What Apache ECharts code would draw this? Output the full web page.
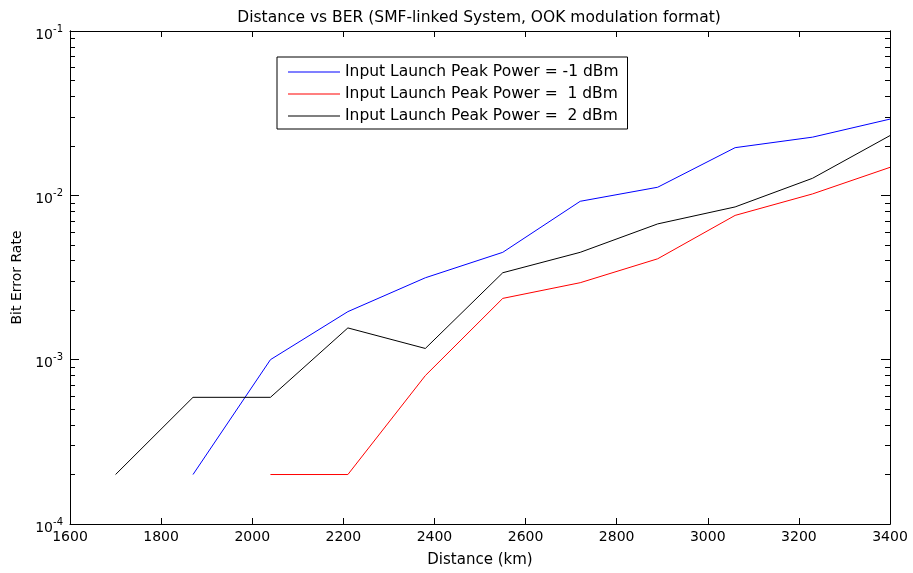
<!DOCTYPE html>
<html>
<head>
<meta charset="utf-8">
<script src="https://cdn.jsdelivr.net/npm/echarts@6/dist/echarts.min.js"></script>
<style>html,body{margin:0;padding:0;background:#fff;}#c{width:913px;height:573px;}</style>
</head>
<body>
<div id="c"></div>
<script>
// ---- data ----
var distBlue  = [1870, 2040, 2210, 2380, 2550, 2720, 2890, 3060, 3230, 3400];
var berBlue   = [2.0e-4, 1.0e-3, 1.96e-3, 3.15e-3, 4.5e-3, 9.2e-3, 1.12e-2, 1.95e-2, 2.26e-2, 2.91e-2];
var distRed   = [2040, 2210, 2380, 2550, 2720, 2890, 3060, 3230, 3400];
var berRed    = [2.0e-4, 2.0e-4, 8.0e-4, 2.36e-3, 2.94e-3, 4.11e-3, 7.55e-3, 1.02e-2, 1.48e-2];
var distBlack = [1700, 1870, 2040, 2210, 2380, 2550, 2720, 2890, 3060, 3230, 3400];
var berBlack  = [2.0e-4, 5.9e-4, 5.9e-4, 1.56e-3, 1.17e-3, 3.38e-3, 4.5e-3, 6.7e-3, 8.5e-3, 1.27e-2, 2.31e-2];
var seriesNames = ['Input Launch Peak Power = -1 dBm', 'Input Launch Peak Power =  1 dBm', 'Input Launch Peak Power =  2 dBm'];
var xTicks = [1600, 1800, 2000, 2200, 2400, 2600, 2800, 3000, 3200, 3400];
var yDecades = [1e-4, 1e-3, 1e-2, 1e-1];
var yMinor = [2e-4,3e-4,4e-4,5e-4,6e-4,7e-4,8e-4,9e-4,2e-3,3e-3,4e-3,5e-3,6e-3,7e-3,8e-3,9e-3,2e-2,3e-2,4e-2,5e-2,6e-2,7e-2,8e-2,9e-2];

function pairs(xs, ys){ return xs.map(function(x,i){ return [x, ys[i]]; }); }

var FONT = '"DejaVu Sans", Arial, sans-serif';
var chart = echarts.init(document.getElementById('c'), null, {renderer:'canvas'});

function yAx(pos, showLabel, ticks, len){
  return {
    type:'log', logBase:10, min:1e-4, max:1e-1, position:pos,
    gridIndex:0,
    axisLine:{show:true, onZero:false, lineStyle:{color:'#000', width:1}},
    axisTick:{show:true, inside:true, length:len, customValues:ticks, lineStyle:{color:'#000', width:1}},
    splitLine:{show:false},
    axisLabel:{show:showLabel, customValues: yDecades, margin:7,
      formatter:function(v){ var e = Math.round(Math.log10(v)); return '{b|10}{s|' + e + '}'; },
      rich:{ b:{fontFamily:FONT, fontSize:14, color:'#000', padding:[8,0,0,0]}, s:{fontFamily:FONT, fontSize:10, color:'#000', padding:[0,0,4,0]} }
    }
  };
}

var option = {
  animation:false,
  backgroundColor:'#fff',
  title:{ text:'Distance vs BER (SMF-linked System, OOK modulation format)', left:474, textAlign:'center', top:5,
    textStyle:{fontFamily:FONT, fontSize:15.5, fontWeight:'normal', color:'#000'} },
  grid:{ left:70, top:31, right:23, bottom:49, containLabel:false },
  legend:{
    orient:'vertical', left:277, top:57,
    data:seriesNames,
    borderColor:'#000', borderWidth:1, borderRadius:0, backgroundColor:'#fff',
    padding:[7,9,5,11],
    itemWidth:52, itemHeight:14, itemGap:6,
    textStyle:{fontFamily:FONT, fontSize:15.5, color:'#000', lineHeight:16},
    icon:'path://M0,0 L52,0 L52,1 L0,1 Z'
  },
  xAxis:[
    { type:'value', min:1600, max:3400, interval:200, position:'bottom',
      name:'Distance (km)', nameLocation:'middle', nameGap:29,
      nameTextStyle:{fontFamily:FONT, fontSize:15, color:'#000'},
      axisLine:{show:true, onZero:false, lineStyle:{color:'#000', width:1}},
      axisTick:{show:true, inside:true, length:6, lineStyle:{color:'#000'}},
      splitLine:{show:false},
      axisLabel:{fontFamily:FONT, fontSize:14, color:'#000', margin:6, customValues:xTicks,
        formatter:function(v){ return String(v); }} },
    { type:'value', min:1600, max:3400, interval:200, position:'top',
      axisLine:{show:true, onZero:false, lineStyle:{color:'#000', width:1}},
      axisTick:{show:true, inside:true, length:6, lineStyle:{color:'#000'}},
      splitLine:{show:false}, axisLabel:{show:false} }
  ],
  yAxis:[
    (function(){ var a = yAx('left', true, yDecades, 9); a.name='Bit Error Rate'; a.nameLocation='middle'; a.nameGap=46;
       a.nameTextStyle={fontFamily:FONT, fontSize:14, color:'#000'}; return a; })(),
    yAx('right', false, yDecades, 9),
    yAx('left', false, yMinor, 5),
    yAx('right', false, yMinor, 5)
  ],
  series:[
    { name:seriesNames[0], type:'line', data:pairs(distBlue, berBlue), symbol:'none', lineStyle:{color:'#0000ff', width:1}, itemStyle:{color:'#0000ff'} },
    { name:seriesNames[1], type:'line', data:pairs(distRed, berRed), symbol:'none', lineStyle:{color:'#ff0000', width:1}, itemStyle:{color:'#ff0000'} },
    { name:seriesNames[2], type:'line', data:pairs(distBlack, berBlack), symbol:'none', lineStyle:{color:'#000000', width:1}, itemStyle:{color:'#000000'} }
  ]
};
chart.setOption(option);
</script>
</body>
</html>
